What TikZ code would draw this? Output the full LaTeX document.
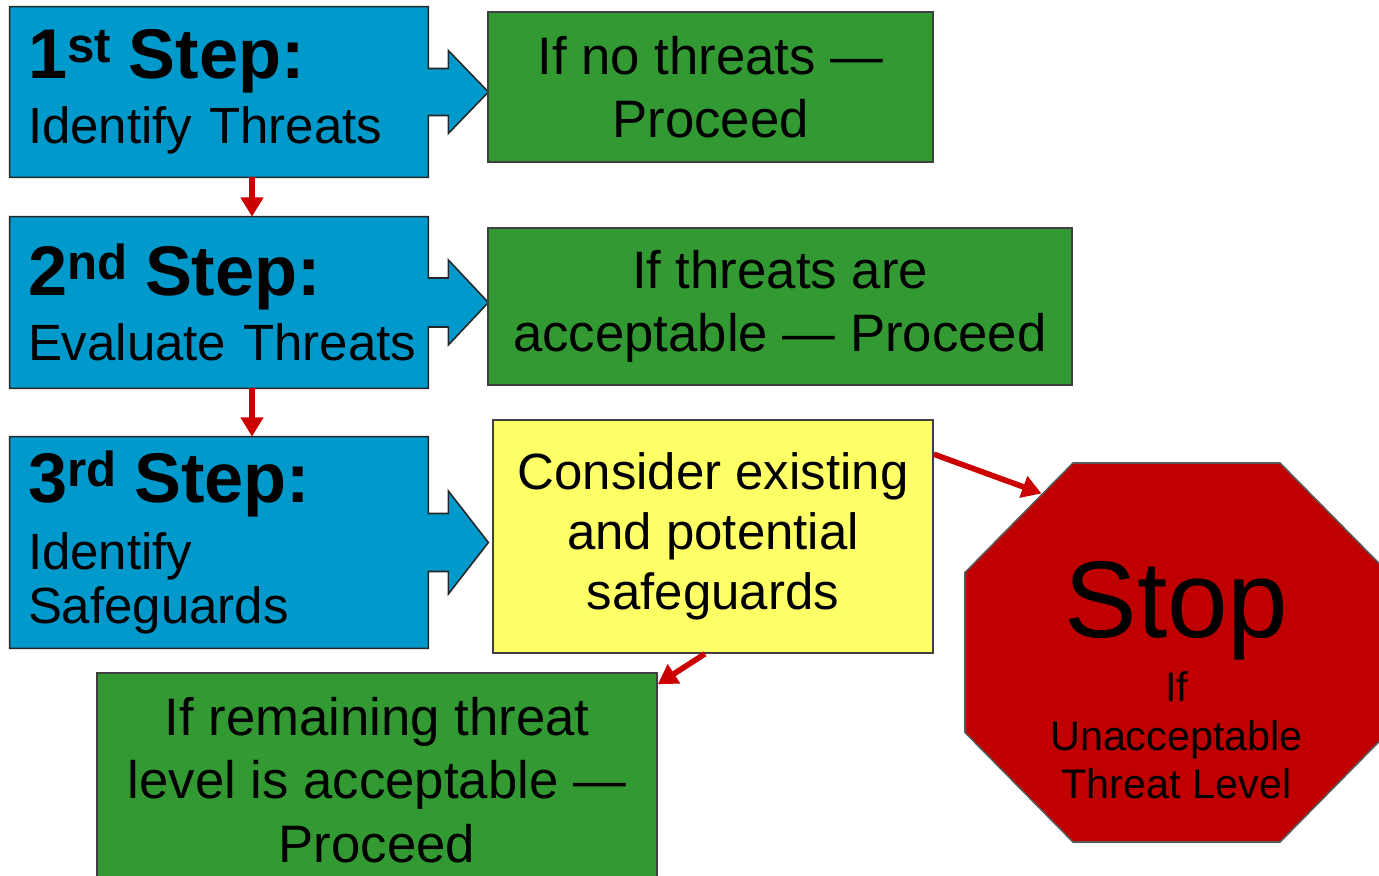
\documentclass[tikz,border=0pt]{standalone}
\usepackage{fontspec}
\setmainfont{Liberation Sans}
\usetikzlibrary{arrows.meta,backgrounds}
\definecolor{stepblue}{RGB}{0,153,204}
\definecolor{okgreen}{RGB}{51,153,51}
\definecolor{notepale}{RGB}{255,255,102}
\definecolor{stopred}{RGB}{192,0,0}
\definecolor{linkred}{RGB}{204,0,0}

\begin{document}
\begin{tikzpicture}[
  stepbox/.style={fill=stepblue,draw=black!85,line width=0.9pt},
  steptext/.style={minimum width=8.36cm,inner xsep=0.36cm,text width=7.64cm,align=left,
    font=\fontsize{29}{34}\selectfont},
  okbox/.style={fill=okgreen,draw=black!75,line width=0.9pt,align=center,inner sep=0pt,
    font=\fontsize{30}{36}\selectfont},
  notebox/.style={fill=notepale,draw=black!75,line width=0.9pt,align=center,inner sep=0pt,
    font=\fontsize{29}{34}\selectfont},
  stopbox/.style={fill=stopred,draw=black!65,line width=0.9pt},
  stoptext/.style={align=center,inner sep=0pt,font=\fontsize{23.5}{27.5}\selectfont},
  link/.style={draw=linkred,line width=3.2pt,-{Triangle[length=11pt,width=12.5pt]}}
]
  \useasboundingbox (0,0) rectangle (27.58,-17.5);
  \node[steptext,minimum height=3.4cm] (s1) at (4.38,-1.84)
    {{\fontsize{40}{40}\selectfont\bfseries 1\textsuperscript{st} Step:}\\[3pt] \mbox{Identify Threats}};
  \node[steptext,minimum height=3.42cm] (s2) at (4.38,-6.05)
    {{\fontsize{40}{40}\selectfont\bfseries 2\textsuperscript{nd} Step:}\\[3pt] \mbox{Evaluate Threats}};
  \node[steptext,minimum height=4.22cm] (s3) at (4.38,-10.85)
    {{\fontsize{40}{40}\selectfont\bfseries 3\textsuperscript{rd} Step:}\\[4pt] Identify\\[-3pt] Safeguards};
  \begin{scope}[on background layer]
    \foreach \n/\a/\b in {s1/0.47/0.83,s2/0.49/0.85,s3/0.58/1.03}
      \draw[stepbox] (\n.north west) -- (\n.north east) -- ([yshift=\a cm]\n.east)
        -- ([shift={(0.4,\a)}]\n.east) -- ([shift={(0.4,\b)}]\n.east) -- ([xshift=1.2cm]\n.east)
        -- ([shift={(0.4,-\b)}]\n.east) -- ([shift={(0.4,-\a)}]\n.east) -- ([yshift=-\a cm]\n.east)
        -- (\n.south east) -- (\n.south west) -- cycle;
  \end{scope}

  \node[okbox,minimum width=8.9cm,minimum height=3cm] (g1) at (14.21,-1.74)
    {If no threats —\\ Proceed};
  \node[okbox,minimum width=11.68cm,minimum height=3.14cm] (g2) at (15.6,-6.13)
    {If threats are\\ acceptable — Proceed};
  \node[notebox,minimum width=8.8cm,minimum height=4.66cm] (yel) at (14.26,-10.73)
    {Consider existing\\ and potential\\ safeguards};
  \node[okbox,minimum width=11.2cm,minimum height=4.28cm] (g3) at (7.54,-15.6)
    {If remaining threat\\ level is acceptable —\\ Proceed};

  \coordinate (oct) at (23.53,-13.05);
  \draw[stopbox] (oct) +(-2.07,3.79) -- +(2.07,3.79) -- +(4.23,1.6) -- +(4.23,-1.6)
    -- +(2.07,-3.79) -- +(-2.07,-3.79) -- +(-4.23,-1.6) -- +(-4.23,1.6) -- cycle;
  \node[stoptext] (stop) at ([yshift=-0.55cm]oct)
    {{\fontsize{62}{62}\selectfont Stop}\\[6pt] If\\ Unacceptable\\ Threat Level};
  \coordinate (stopin) at ([shift={(-2.7,3.18)}]oct);

  \draw[link] ([xshift=0.66cm]s1.south) -- ([xshift=0.66cm]s2.north);
  \draw[link] ([xshift=0.66cm]s2.south) -- ([xshift=0.66cm]s3.north);
  \draw[link] ([yshift=-0.7cm]yel.north east) -- (stopin);
  \draw[link] ([xshift=-0.16cm]yel.south) -- ([yshift=-0.24cm]g3.north east);
\end{tikzpicture}
\end{document}
